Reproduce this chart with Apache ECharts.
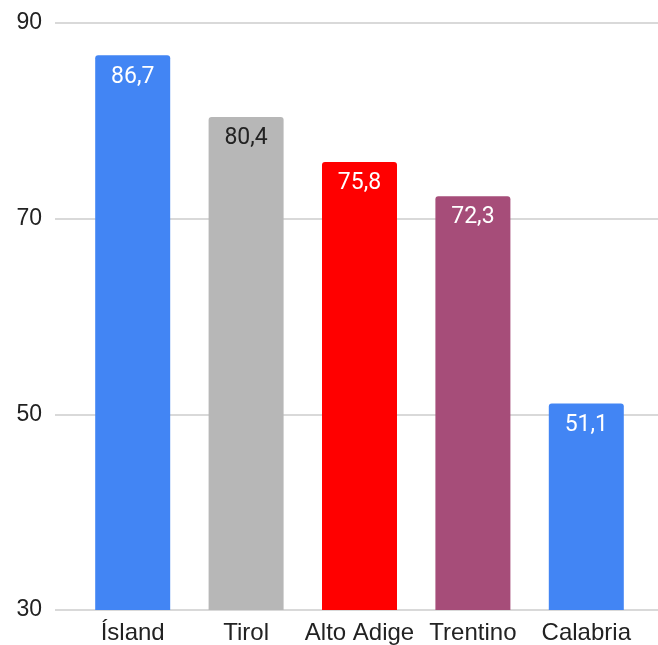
<!DOCTYPE html>
<html>
<head>
<meta charset="utf-8">
<script src="https://cdn.jsdelivr.net/npm/echarts@6/dist/echarts.min.js"></script>
<style>
  html, body { margin: 0; padding: 0; background: #fff; }
  #chart { width: 658px; height: 645px; }
</style>
</head>
<body>
<div id="chart"></div>
<script>
const categories = ['Ísland', 'Tirol', 'Alto Adige', 'Trentino', 'Calabria']
const values = [86.7, 80.4, 75.8, 72.3, 51.1]
const barColors = ['#4285f4', '#b7b7b7', '#ff0000', '#a64d79', '#4285f4']
const labelColors = ['#fff', '#222', '#fff', '#fff', '#fff']
const yTicks = [30, 50, 70, 90]

const axisFont = '"Liberation Sans", Arial, sans-serif'
const labelFont = 'Roboto, "Liberation Sans", sans-serif'
const yMin = yTicks[0], yMax = yTicks[yTicks.length - 1]

const chart = echarts.init(document.getElementById('chart'))
chart.setOption({
  backgroundColor: '#fff',
  animation: false,
  grid: [
    { left: 55, right: 0, top: 23, bottom: 35 },
    { left: 76, right: 15, top: 23, bottom: 35 }
  ],
  xAxis: [
    { gridIndex: 0, type: 'value', show: false },
    {
      gridIndex: 1, type: 'category', data: categories,
      axisLine: { show: false }, axisTick: { show: false },
      axisLabel: { color: '#222', fontSize: 24, fontFamily: axisFont, margin: 11, interval: 0 }
    }
  ],
  yAxis: [
    {
      gridIndex: 0, type: 'value', min: yMin, max: yMax, interval: 20,
      axisLine: { show: false }, axisTick: { show: false },
      axisLabel: { color: '#222', fontSize: 23, fontFamily: axisFont, margin: 13 },
      splitLine: { lineStyle: { color: '#cccccc', width: 1.5 } }
    },
    { gridIndex: 1, type: 'value', min: yMin, max: yMax, show: false }
  ],
  series: [{
    type: 'bar', xAxisIndex: 1, yAxisIndex: 1,
    barWidth: 75,
    data: values.map((v, i) => ({
      value: v,
      itemStyle: { color: barColors[i], borderRadius: [3, 3, 0, 0] },
      label: { color: labelColors[i] }
    })),
    label: {
      show: true, position: 'insideTop', distance: 10,
      fontSize: 23, fontFamily: labelFont,
      formatter: p => String(p.value).replace('.', ',')
    }
  }]
})
</script>
</body>
</html>
